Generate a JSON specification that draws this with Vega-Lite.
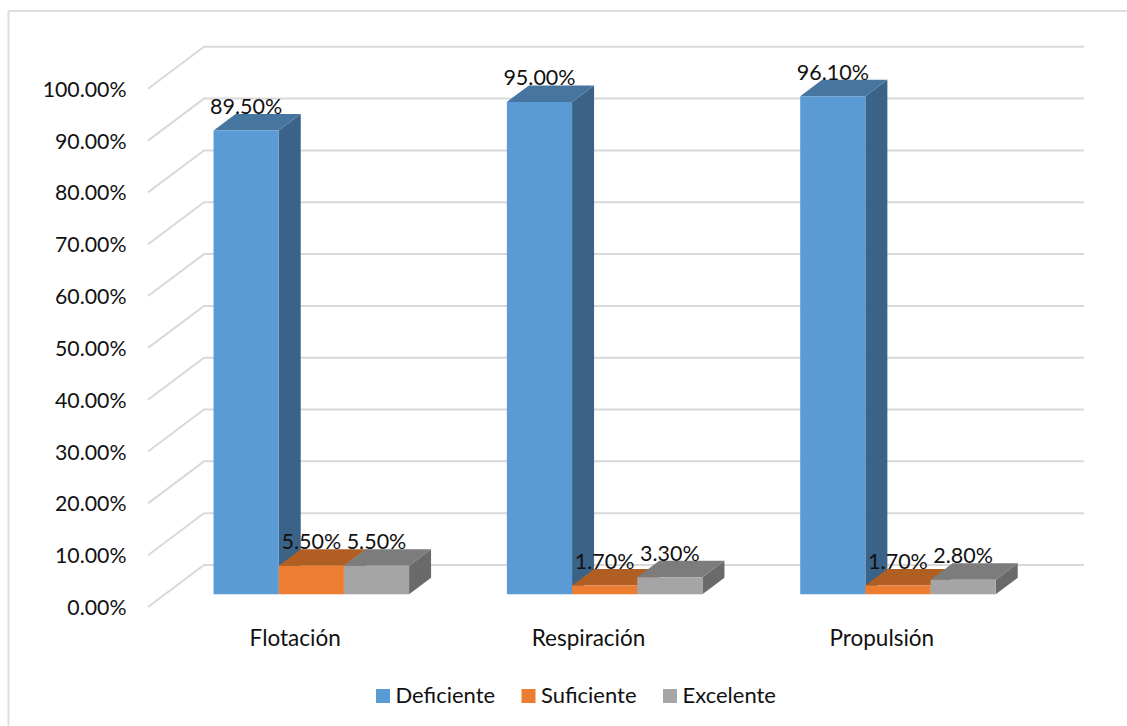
{
  "$schema": "https://vega.github.io/schema/vega-lite/v6.json",
  "width": 936,
  "height": 561,
  "autosize": {"type": "none"},
  "padding": {"left": 148, "top": 46, "right": 43, "bottom": 119},
  "background": "white",
  "config": {
    "view": {"stroke": null},
    "font": "Lato",
    "text": {"font": "Lato"},
    "axis": {"labelFont": "Lato", "labelColor": "#111111", "labelFontSize": 21},
    "legend": {"labelFont": "Lato", "labelColor": "#111111", "labelFontSize": 22}
  },
  "datasets": {
    "porcentajes": [
      {"categoria": "Flotación", "nivel": "Deficiente", "valor": 0.895},
      {"categoria": "Flotación", "nivel": "Suficiente", "valor": 0.055},
      {"categoria": "Flotación", "nivel": "Excelente", "valor": 0.055},
      {"categoria": "Respiración", "nivel": "Deficiente", "valor": 0.95},
      {"categoria": "Respiración", "nivel": "Suficiente", "valor": 0.017},
      {"categoria": "Respiración", "nivel": "Excelente", "valor": 0.033},
      {"categoria": "Propulsión", "nivel": "Deficiente", "valor": 0.961},
      {"categoria": "Propulsión", "nivel": "Suficiente", "valor": 0.017},
      {"categoria": "Propulsión", "nivel": "Excelente", "valor": 0.028}
    ],
    "marcas": [
      {"marca": 0}, {"marca": 0.1}, {"marca": 0.2}, {"marca": 0.3}, {"marca": 0.4}, {"marca": 0.5},
      {"marca": 0.6}, {"marca": 0.7}, {"marca": 0.8}, {"marca": 0.9}, {"marca": 1}
    ]
  },
  "resolve": {"scale": {"color": "independent"}},
  "layer": [
    {
      "description": "Left edge of the chart frame; the shared scales and axes are declared here",
      "data": {"values": [{}]},
      "mark": {"type": "rule", "color": "#dedede", "strokeWidth": 2},
      "encoding": {
        "x": {
          "datum": -0.4756, "type": "quantitative", "title": null,
          "scale": {"domain": [0, 3.191], "nice": false, "zero": false},
          "axis": {
            "values": [0.5, 1.5, 2.5],
            "labelExpr": "['Flotación', 'Respiración', 'Propulsión'][floor(datum.value)]",
            "domain": false, "ticks": false, "grid": false, "labelFontSize": 22.5,
            "labelPadding": 20, "labelFlush": false, "labelOverlap": false
          }
        },
        "y": {
          "datum": 1.15, "type": "quantitative", "title": null,
          "scale": {"domain": [0, 1.0825], "nice": false, "zero": false},
          "axis": {
            "values": [0, 0.1, 0.2, 0.3, 0.4, 0.5, 0.6, 0.7, 0.8, 0.9, 1],
            "format": ".2%",
            "domain": false, "ticks": false, "grid": false, "labelFontSize": 21.3,
            "labelOffset": 1.5,
            "labelPadding": 22, "labelFlush": false, "labelOverlap": false
          }
        },
        "y2": {"datum": -0.2296}
      }
    },
    {
      "description": "Top edge of the chart frame",
      "data": {"values": [{}]},
      "mark": {"type": "rule", "color": "#dedede", "strokeWidth": 2},
      "encoding": {
        "x": {"datum": -0.4756, "type": "quantitative", "title": null},
        "x2": {"datum": 3.3375},
        "y": {"datum": 1.15, "type": "quantitative", "title": null}
      }
    },
    {
      "description": "Gridlines bent along the side wall and the back wall",
      "data": {"name": "marcas"},
      "transform": [
        {"calculate": "[0, 1, 2]", "as": "tramo"},
        {"flatten": ["tramo"]},
        {"calculate": "datum.tramo === 0 ? 0 : datum.tramo === 1 ? 0.1909 : 3.191", "as": "gx"},
        {"calculate": "datum.tramo === 0 ? datum.marca : datum.marca + 0.081", "as": "gy"}
      ],
      "mark": {"type": "line", "color": "#d9d9d9", "strokeWidth": 2, "clip": false},
      "encoding": {
        "x": {"field": "gx", "type": "quantitative", "title": null},
        "y": {"field": "gy", "type": "quantitative", "title": null},
        "detail": {"field": "marca"}
      }
    },
    {
      "description": "Three-dimensional bars: one box per row",
      "data": {"name": "porcentajes"},
      "transform": [
        {"calculate": "indexof(['Flotación', 'Respiración', 'Propulsión'], datum.categoria) + 0.2235 + 0.2222 * indexof(['Deficiente', 'Suficiente', 'Excelente'], datum.nivel)", "as": "x0"},
        {"calculate": "datum.x0 + 0.2222", "as": "x1"},
        {"calculate": "datum.valor + 0.0246", "as": "ytop"}
      ],
      "resolve": {"scale": {"color": "independent"}},
      "layer": [
        {
          "description": "Right side faces",
          "transform": [
            {"calculate": "[0, 1]", "as": "esquina"},
            {"flatten": ["esquina"]},
            {"calculate": "datum.x1 + 0.075 * datum.esquina", "as": "sx"},
            {"calculate": "datum.ytop + 0.0318 * datum.esquina", "as": "sy"},
            {"calculate": "0.0246 + 0.0318 * datum.esquina", "as": "sy2"}
          ],
          "mark": {"type": "area", "interpolate": "linear", "line": false},
          "encoding": {
            "x": {"field": "sx", "type": "quantitative", "title": null},
            "y": {"field": "sy", "type": "quantitative", "stack": null, "title": null},
            "y2": {"field": "sy2"},
            "detail": {"field": "categoria"},
            "color": {
              "field": "nivel", "type": "nominal", "legend": null,
              "scale": {"domain": ["Deficiente", "Suficiente", "Excelente"], "range": ["#3a6387", "#9e5424", "#6a6a6a"]}
            }
          }
        },
        {
          "description": "Top faces",
          "transform": [
            {"calculate": "[0, 1, 2, 3]", "as": "esquina"},
            {"flatten": ["esquina"]},
            {"calculate": "datum.esquina === 0 ? datum.x0 : datum.esquina === 1 ? datum.x0 + 0.075 : datum.esquina === 2 ? datum.x1 : datum.x1 + 0.075", "as": "tx"},
            {"calculate": "datum.esquina === 0 ? datum.ytop : datum.ytop + 0.0318", "as": "ty"},
            {"calculate": "datum.esquina === 3 ? datum.ytop + 0.0318 : datum.ytop", "as": "ty2"}
          ],
          "mark": {"type": "area", "interpolate": "linear", "line": false},
          "encoding": {
            "x": {"field": "tx", "type": "quantitative", "title": null},
            "y": {"field": "ty", "type": "quantitative", "stack": null, "title": null},
            "y2": {"field": "ty2"},
            "detail": {"field": "categoria"},
            "color": {
              "field": "nivel", "type": "nominal", "legend": null,
              "scale": {"domain": ["Deficiente", "Suficiente", "Excelente"], "range": ["#4675a0", "#b15e23", "#7c7c7c"]}
            }
          }
        },
        {
          "description": "Front faces, which also carry the legend",
          "transform": [{"calculate": "0.0246", "as": "base"}],
          "mark": {"type": "rect"},
          "encoding": {
            "x": {"field": "x0", "type": "quantitative", "title": null},
            "x2": {"field": "x1"},
            "y": {"field": "ytop", "type": "quantitative", "title": null},
            "y2": {"field": "base"},
            "color": {
              "field": "nivel", "type": "nominal", "title": null,
              "scale": {"domain": ["Deficiente", "Suficiente", "Excelente"], "range": ["#5b9bd5", "#ed7d31", "#a5a5a5"]},
              "legend": {
                "orient": "none", "legendX": 224, "legendY": 639, "direction": "horizontal", "columns": 3,
                "symbolType": "square", "symbolSize": 196, "symbolStrokeWidth": 0,
                "labelOffset": 1.5, "columnPadding": 21.5, "padding": 0
              }
            }
          }
        },
        {
          "description": "Value labels above each box",
          "transform": [
            {"calculate": "datum.x0 + 0.1111", "as": "lx"},
            {"calculate": "datum.ytop + 0.0318", "as": "ly"}
          ],
          "mark": {"type": "text", "align": "center", "baseline": "alphabetic", "fontSize": 21.5, "color": "#111111"},
          "encoding": {
            "x": {"field": "lx", "type": "quantitative", "title": null},
            "y": {"field": "ly", "type": "quantitative", "title": null},
            "text": {"field": "valor", "type": "quantitative", "format": ".2%"}
          }
        }
      ]
    }
  ]
}
